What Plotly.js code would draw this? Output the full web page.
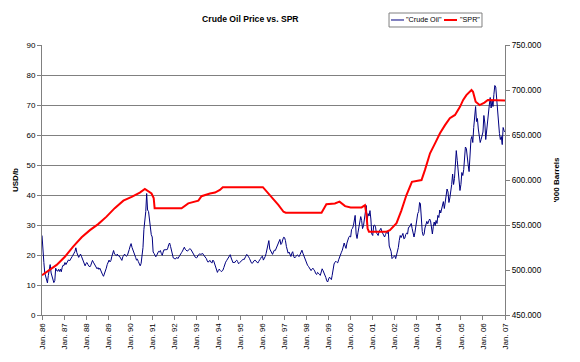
<!DOCTYPE html>
<html>
<head>
<meta charset="utf-8">
<script src="https://cdn.plot.ly/plotly-3.0.1.min.js"></script>
<style>html,body{margin:0;padding:0;background:#fff;}#chart{width:580px;height:362px;}</style>
</head>
<body>
<div id="chart"></div>
<script>
// Crude oil price, USD/b, semi-monthly readings (1st and 16th of each month)
var oil1986 = [26.5,20.5,17.5,14.0,13.0,11.8,10.7,13.2,14.8,16.8,14.0,12.9,12.0,10.8,11.5,15.6,14.8,14.6,15.2,14.5,15.3,14.4,15.8,16.6];
var oil1987 = [16.5,17.5,16.8,17.6,17.8,18.4,18.0,18.8,19.0,19.5,19.9,20.6,21.2,22.4,20.8,19.9,19.2,19.8,20.3,19.6,18.8,18.1,17.0,16.4];
var oil1988 = [17.2,17.5,16.8,16.5,16.0,16.4,17.2,18.2,17.6,17.1,16.6,16.2,15.4,15.8,15.2,15.6,14.6,14.2,13.4,12.9,13.8,14.3,15.6,16.8];
var oil1989 = [17.5,18.3,17.7,18.2,19.4,20.6,21.5,20.3,20.0,19.8,20.3,19.7,19.8,19.3,18.6,18.2,19.4,19.9,20.3,19.8,19.6,19.9,20.6,21.8];
var oil1990 = [23.0,23.8,22.5,21.8,20.8,20.2,19.2,18.3,18.6,17.8,16.9,16.4,17.2,19.5,22.5,28.5,31.0,34.5,40.5,35.0,34.5,31.0,29.5,26.8];
var oil1991 = [26.0,21.0,20.5,19.8,19.4,19.9,20.6,21.2,21.0,21.5,20.5,19.9,21.0,21.8,21.6,21.9,21.7,22.3,23.5,24.0,22.8,21.6,19.8,19.0];
var oil1992 = [18.9,18.6,19.0,19.2,18.8,19.2,19.9,20.4,20.8,21.3,22.2,22.6,21.9,21.6,21.3,21.5,21.8,22.1,21.9,21.4,20.5,20.1,19.6,19.2];
var oil1993 = [19.0,19.3,20.0,20.3,20.4,20.2,20.3,20.5,20.0,19.7,19.3,18.8,18.0,17.6,18.0,18.2,17.6,17.3,18.3,18.0,17.0,16.0,14.8,14.2];
var oil1994 = [14.9,15.3,14.8,14.5,14.6,14.9,15.8,16.9,17.6,18.1,18.7,19.5,19.7,20.1,19.0,17.8,17.4,17.6,17.5,18.0,18.3,17.8,17.1,17.4];
var oil1995 = [17.8,18.2,18.4,18.6,18.4,18.8,19.6,20.2,19.9,19.4,18.8,18.0,17.4,17.2,17.9,18.1,18.3,18.0,17.5,17.3,17.9,18.2,18.8,19.4];
var oil1996 = [19.6,18.3,18.8,19.5,20.5,22.0,23.0,24.8,22.0,21.4,20.5,20.2,21.0,21.6,21.5,22.2,23.2,24.2,24.8,25.2,23.5,23.9,25.0,25.9];
var oil1997 = [25.8,24.8,22.8,21.4,20.6,21.0,20.0,19.5,20.6,21.1,19.6,19.0,19.4,19.8,20.0,19.7,19.5,20.2,21.0,21.6,20.6,19.8,18.8,18.0];
var oil1998 = [17.3,16.6,16.2,15.8,15.2,14.8,15.3,15.6,15.1,14.7,13.8,13.5,14.2,14.0,13.6,13.2,14.6,15.4,14.8,14.2,13.4,12.5,11.4,11.0];
var oil1999 = [12.0,12.6,12.2,11.8,13.2,15.5,17.0,17.6,17.9,17.6,17.4,18.4,19.5,20.5,20.9,21.6,22.8,24.0,23.0,22.2,24.0,25.6,25.9,26.3];
var oil2000 = [26.0,28.5,28.9,29.8,31.5,33.2,27.0,25.5,27.4,29.5,30.5,32.8,31.5,28.8,29.8,31.9,33.6,36.5,31.5,33.8,33.0,34.8,32.0,27.0];
var oil2001 = [26.5,29.8,30.0,29.3,27.5,26.8,26.5,27.8,28.6,28.9,27.8,27.2,26.3,26.0,26.8,27.6,27.2,27.8,23.0,21.8,21.2,18.8,19.2,19.5];
var oil2002 = [19.8,18.8,20.2,21.0,22.5,24.8,26.5,25.8,26.8,27.2,25.4,25.6,26.8,27.3,27.0,29.2,29.3,30.2,30.5,28.8,27.0,26.0,27.5,30.2];
var oil2003 = [31.8,33.8,34.5,37.5,37.2,31.5,27.8,26.5,26.8,29.0,30.3,31.2,30.4,31.0,32.0,31.5,28.5,27.0,29.5,31.0,29.8,31.5,30.5,33.2];
var oil2004 = [32.5,35.0,34.0,35.5,36.5,37.8,35.5,37.5,39.5,42.0,41.0,37.5,39.0,41.0,43.5,47.0,43.5,45.5,50.0,54.8,51.5,47.5,44.5,41.5];
var oil2005 = [43.5,47.5,46.5,48.5,52.0,56.0,55.5,51.5,50.0,47.8,53.5,58.5,59.5,57.5,62.5,65.5,69.5,64.5,65.5,62.0,60.0,57.5,58.5,59.5];
var oil2006 = [61.0,66.5,64.0,58.5,61.5,63.0,66.5,70.0,72.5,69.0,71.5,69.5,73.5,76.5,76.0,72.0,68.5,63.0,60.5,58.5,59.5,56.8,62.5,61.5];
var oilLast = 61.0; // 2007-01-01

// Strategic Petroleum Reserve, thousand barrels
var sprDates = ['1986-01-01','1986-09-01','1987-01-15','1987-06-01','1987-10-20','1988-03-05','1988-07-20','1988-12-05','1989-04-20','1989-09-10','1990-01-25','1990-06-10','1990-09-01','1990-12-20','1991-01-25','1991-02-10','1992-05-01','1992-08-20','1993-02-03','1993-03-28','1993-08-15','1993-11-06','1994-01-26','1994-03-15','1996-01-08','1996-04-08','1996-07-01','1996-09-20','1996-12-15','1997-01-20','1998-09-06','1998-11-25','1999-04-15','1999-07-01','1999-10-01','2000-01-01','2000-07-01','2000-08-25','2000-09-20','2000-10-08','2000-10-30','2001-08-18','2001-10-12','2002-01-30','2002-04-20','2002-07-12','2002-10-12','2003-03-20','2003-05-15','2003-08-08','2003-10-30','2004-01-20','2004-04-12','2004-07-01','2004-09-25','2004-12-16','2005-02-07','2005-04-01','2005-06-25','2005-07-20','2005-09-02','2005-11-06','2006-01-26','2006-03-22','2007-01-01'];
var sprValues = [494300,505700,514700,526000,536300,544300,551000,559300,568700,577000,581300,586000,590000,585000,580000,568500,568500,574000,577000,582000,585000,586000,589000,592000,592000,585000,579700,572300,564700,563700,563700,573000,574000,576000,571000,569500,569500,572000,561000,546000,542600,542600,544300,552000,566000,583000,598000,600000,611000,629700,640700,652000,661000,668700,672300,681300,689000,694300,700000,698000,687000,683300,686000,688900,688300];

var years = [1986,1987,1988,1989,1990,1991,1992,1993,1994,1995,1996,1997,1998,1999,2000,2001,2002,2003,2004,2005,2006];
var oilByYear = [oil1986,oil1987,oil1988,oil1989,oil1990,oil1991,oil1992,oil1993,oil1994,oil1995,oil1996,oil1997,oil1998,oil1999,oil2000,oil2001,oil2002,oil2003,oil2004,oil2005,oil2006];

var oilDates = [], oilValues = [];
years.forEach(function (y, i) {
  for (var m = 1; m <= 12; m++) {
    var mm = (m < 10 ? '0' : '') + m;
    oilDates.push(y + '-' + mm + '-01');
    oilDates.push(y + '-' + mm + '-16');
  }
  oilValues = oilValues.concat(oilByYear[i]);
});
oilDates.push('2007-01-01');
oilValues.push(oilLast);

var FONT = 'Liberation Sans, Arial, sans-serif';
var GRID = '#808080';

var traces = [
  {x: oilDates, y: oilValues, type: 'scatter', mode: 'lines', name: '"Crude Oil"',
   line: {color: '#000080', width: 1}, yaxis: 'y'},
  {x: sprDates, y: sprValues, type: 'scatter', mode: 'lines', name: '"SPR"',
   line: {color: '#ff0000', width: 2}, yaxis: 'y2'}
];

// manual legend (paper coordinates)
var lgY = 1.0926;
var layout = {
  width: 580, height: 362,
  margin: {l: 42, r: 75, t: 45, b: 47},
  paper_bgcolor: '#ffffff', plot_bgcolor: '#ffffff',
  separators: ',.',
  showlegend: false,
  font: {family: FONT, size: 8, color: '#000'},
  title: {text: '<b>Crude Oil Price vs. SPR</b>', font: {family: FONT, size: 8.6, color: '#000'},
          x: 261 / 580, xanchor: 'center', y: 1 - 19 / 362, yanchor: 'middle', xref: 'paper'},
  xaxis: {type: 'date', range: ['1986-01-01', '2007-01-01'], tick0: '1986-01-01', dtick: 'M12',
          tickformat: '%b. %y', tickangle: -90, ticks: 'outside', ticklen: 4, tickcolor: GRID,
          showline: true, linecolor: GRID, linewidth: 1, showgrid: false, zeroline: false,
          tickfont: {family: FONT, size: 8, color: '#000'}},
  yaxis: {range: [0, 90], dtick: 10, ticks: 'outside', ticklen: 4, tickcolor: GRID,
          showline: true, linecolor: GRID, linewidth: 1, showgrid: true, gridcolor: GRID, gridwidth: 1,
          zeroline: false, tickfont: {family: FONT, size: 8, color: '#000'},
          title: {text: '<b>USD/b</b>', font: {family: FONT, size: 8, color: '#000'}, standoff: 6}},
  yaxis2: {range: [450000, 750000], dtick: 50000, overlaying: 'y', side: 'right', tickformat: ',.0f',
           ticks: 'outside', ticklen: 4, tickcolor: GRID, showline: true, linecolor: GRID, linewidth: 1,
           showgrid: false, zeroline: false, tickfont: {family: FONT, size: 8.2, color: '#000'},
           title: {text: "<b>'000 Barrels</b>", font: {family: FONT, size: 8, color: '#000'}, standoff: 12}},
  shapes: [
    {type: 'rect', xref: 'paper', yref: 'paper', x0: 0.7495, x1: 0.9503, y0: 1.0667, y1: 1.1185,
     line: {color: GRID, width: 1}, fillcolor: '#ffffff'},
    {type: 'line', xref: 'paper', yref: 'paper', x0: 0.7538, x1: 0.7819, y0: lgY, y1: lgY,
     line: {color: '#000080', width: 1}},
    {type: 'line', xref: 'paper', yref: 'paper', x0: 0.8683, x1: 0.8963, y0: lgY, y1: lgY,
     line: {color: '#ff0000', width: 2}}
  ],
  annotations: [
    {xref: 'paper', yref: 'paper', x: 0.7840, y: lgY, xanchor: 'left', yanchor: 'middle', showarrow: false,
     text: '"Crude Oil"', font: {family: FONT, size: 7.2, color: '#000'}, borderpad: 0},
    {xref: 'paper', yref: 'paper', x: 0.9006, y: lgY, xanchor: 'left', yanchor: 'middle', showarrow: false,
     text: '"SPR"', font: {family: FONT, size: 7.2, color: '#000'}, borderpad: 0}
  ]
};

Plotly.newPlot('chart', traces, layout, {displayModeBar: false, staticPlot: true});
</script>
</body>
</html>
